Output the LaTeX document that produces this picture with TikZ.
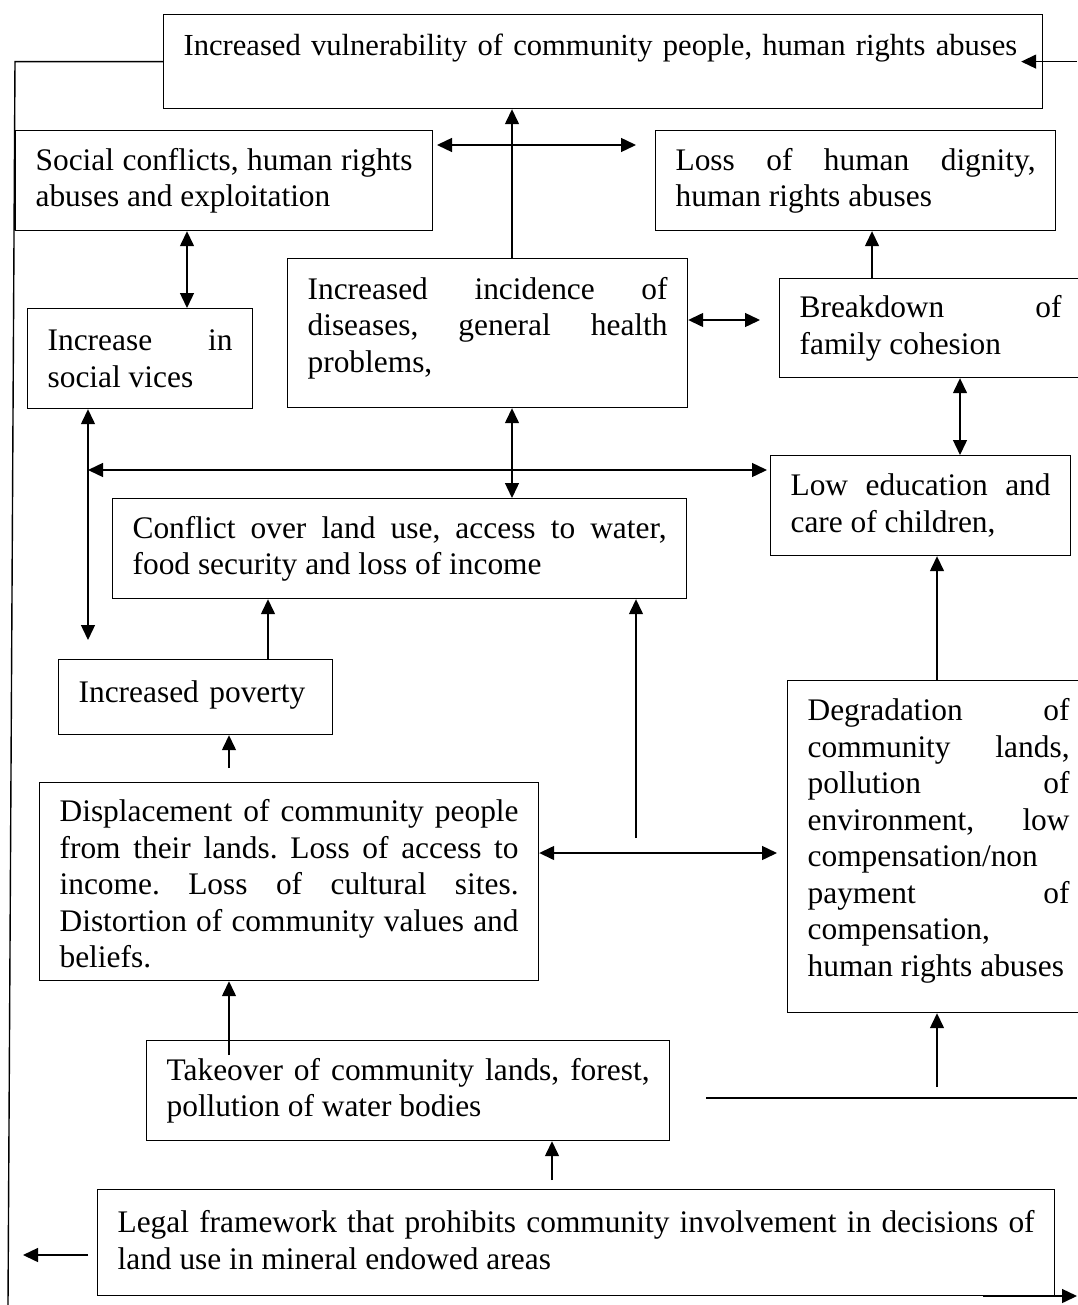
\documentclass[tikz,border=0pt]{standalone}
\usepackage{fontspec}
\setmainfont{Liberation Serif}
\usetikzlibrary{arrows.meta}
\pretolerance=10000
\tolerance=10000
\frenchspacing
\tikzset{
  box/.style = {draw, rectangle, anchor=north west, line width=0.6pt,
                inner xsep=10pt, inner ysep=4pt, align=justify,
                font=\fontsize{15.7}{18.25}\selectfont},
  arr/.style = {-{Triangle[length=7.5pt,width=7pt]}, line width=0.7pt},
  arrs/.style = {{Triangle[length=7.5pt,width=7pt]}-{Triangle[length=7.5pt,width=7pt]},
                 line width=0.7pt}
}

\begin{document}
\begin{tikzpicture}[x=0.5pt, y=-0.5pt]
	\useasboundingbox (0,0) rectangle (1077,1305);

	% Boxes
	\node[box, align=left, text width=419.5pt, text height=16.5pt, text depth=22.5pt,
	      font=\fontsize{15.3}{18.25}\selectfont] (vuln) at (163,14)
		{Increased vulnerability of community people, human rights abuses};
	\node[box, text width=188.5pt, minimum height=50pt] (social) at (15,130)
		{Social conflicts, human rights\linebreak abuses and exploitation};
	\node[box, text width=180pt, minimum height=50pt] (dignity) at (655,130)
		{Loss of human dignity,\linebreak human rights abuses};
	\node[box, text width=180pt, minimum height=74.5pt, text depth=45pt] (disease) at (287,258)
		{Increased incidence of\linebreak diseases, general health\linebreak problems,};
	\node[box, text width=131pt, minimum height=49.5pt] (family) at (779,278)
		{Breakdown of\linebreak family cohesion};
	\node[box, text width=92.5pt, minimum height=50pt] (vices) at (27,308)
		{Increase in\linebreak social vices};
	\node[box, text width=130pt, minimum height=50pt] (education) at (770,455)
		{Low education and\linebreak care of children,};
	\node[box, text width=267pt, minimum height=50pt] (landuse) at (112,498)
		{Conflict over land use, access to water,\linebreak food security and loss of income};
	\node[box, align=left, text width=117pt, minimum height=37.5pt, text depth=5.5pt] (poverty) at (58,659)
		{Increased poverty};
	\node[box, text width=229.5pt, minimum height=99pt, text height=13.5pt] (displace) at (39,782)
		{Displacement of community people\linebreak from their lands. Loss of access to\linebreak
		 income. Loss of cultural sites.\linebreak Distortion of community values and\linebreak beliefs.};
	\node[box, text width=131pt, minimum height=166pt, text depth=137pt] (degrade) at (787,680)
		{Degradation of\linebreak community lands,\linebreak pollution of\linebreak environment, low\linebreak
		 compensation/non\linebreak payment of\linebreak compensation,\linebreak human rights abuses};
	\node[box, text width=241.5pt, minimum height=50pt] (takeover) at (146,1040)
		{Takeover of community lands, forest,\linebreak pollution of water bodies};
	\node[box, text width=458.5pt, minimum height=53pt, text depth=21pt] (legal) at (97,1189)
		{Legal framework that prohibits community involvement in decisions of\linebreak
		 land use in mineral endowed areas};

	% Columns of the vertical arrows
	\coordinate (midCol)  at (512,0);
	\coordinate (socCol)  at (187,0);
	\coordinate (famCol)  at (872,0);
	\coordinate (eduCol)  at (960,0);
	\coordinate (povCol)  at (268,0);
	\coordinate (dispCol) at (229,0);
	\coordinate (landCol) at (636,0);
	\coordinate (degCol)  at (937,0);
	\coordinate (legCol)  at (552,0);
	\coordinate (leftCol) at (88,0);

	% Free ends
	\coordinate (loopTop)  at (15,60);
	\coordinate (loopBot)  at (8,1305);
	\coordinate (rightTop) at (1077,60);
	\coordinate (socEnd)   at (437,145);
	\coordinate (digEnd)   at (636,145);
	\coordinate (famEnd)   at (760,320);
	\coordinate (eduEnd)   at (767,470);
	\coordinate (vicesEnd) at (88,640);
	\coordinate (povEnd)   at (229,768);
	\coordinate (landEnd)  at (636,838);
	\coordinate (degEnd)   at (777,853);
	\coordinate (takeEnd)  at (229,1055);
	\coordinate (legEnd)   at (552,1180);
	\coordinate (degBot)   at (937,1087);
	\coordinate (lineL)    at (706,1098);
	\coordinate (lineR)    at (1077,1098);
	\coordinate (outL)     at (88,1255);
	\coordinate (outLtip)  at (23,1255);
	\coordinate (outR)     at (983,1296);
	\coordinate (outRtip)  at (1077,1296);

	% Arrows
	\draw[line width=0.7pt] (vuln.west) -- (vuln.west -| loopTop) -- (loopBot);
	\draw[arr] (rightTop |- vuln.east) -- ([xshift=-11pt]vuln.east);
	\draw[arr] (midCol |- disease.north) -- (midCol |- vuln.south);
	\draw[arrs] (socEnd) -- (digEnd);
	\draw[arrs] (socCol |- social.south) -- (socCol |- vices.north);
	\draw[arr] (famCol |- family.north) -- (famCol |- dignity.south);
	\draw[arrs] (famEnd -| disease.east) -- (famEnd);
	\draw[arrs] (eduCol |- family.south) -- (eduCol |- education.north);
	\draw[arrs] (midCol |- disease.south) -- (midCol |- landuse.north);
	\draw[arrs] (leftCol |- eduEnd) -- (eduEnd);
	\draw[arrs] (leftCol |- vices.south) -- (vicesEnd);
	\draw[arr] (povCol |- poverty.north) -- (povCol |- landuse.south);
	\draw[arr] (povEnd) -- (dispCol |- poverty.south);
	\draw[arr] (landEnd) -- (landCol |- landuse.south);
	\draw[arrs] (degEnd -| displace.east) -- (degEnd);
	\draw[arr] (degCol |- degrade.north) -- (degCol |- education.south);
	\draw[arr] (takeEnd) -- (dispCol |- displace.south);
	\draw[arr] (legEnd) -- (legCol |- takeover.south);
	\draw[arr] (degBot) -- (degCol |- degrade.south);
	\draw[line width=0.7pt] (lineL) -- (lineR);
	\draw[arr] (outL) -- (outLtip);
	\draw[arr] (outR) -- (outRtip);

\end{tikzpicture}
\end{document}
